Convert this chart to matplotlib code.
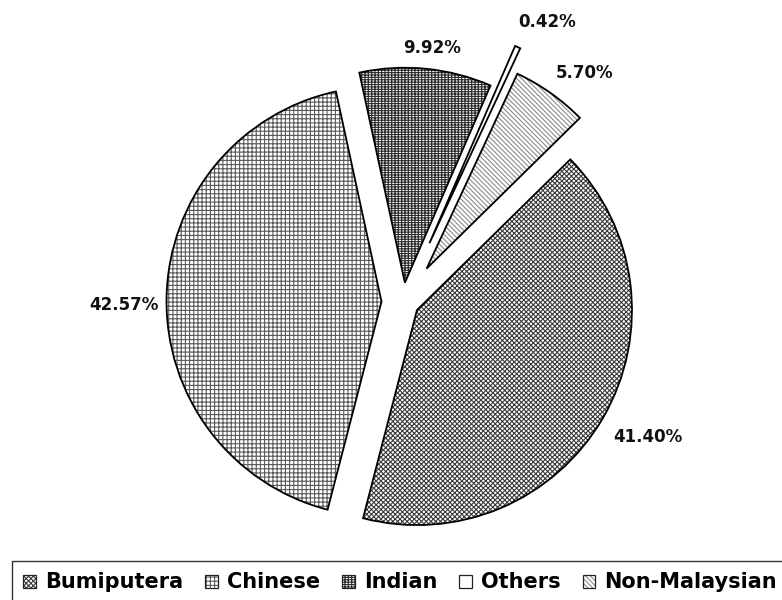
import matplotlib
matplotlib.use("Agg")
import matplotlib.pyplot as plt
from matplotlib.patches import Wedge, Patch
import numpy as np

categories = ["Bumiputera", "Chinese", "Indian", "Others", "Non-Malaysian"]
values = [41.40, 42.57, 9.92, 0.42, 5.70]
explode = [0.075, 0.10, 0.09, 0.30, 0.19]
hatches = ["xxxxxxx", "++++", "+++++--", "", "\\\\\\\\\\\\\\"]
hatch_colors = ["#3c3c3c", "#5a5a5a", "#2a2a2a", "#ffffff", "#8c8c8c"]
label_dist = [1.226, 1.20, 1.10, 1.165, 1.17]
label_angle_off = [1.2, 2.0, -0.9, -3.7, -3.6]

plt.rcParams["hatch.linewidth"] = 0.8
W, H = 782, 600
fig = plt.figure(figsize=(W / 100, H / 100), dpi=100)
R = 215.0
L = 1.6
cx, cy = 403.0, H - 302.0
side = 2 * L * R
ax = fig.add_axes([(cx - side / 2) / W, (cy - side / 2) / H, side / W, side / H])

wedges, _ = ax.pie(values, explode=explode, startangle=44.5, counterclock=False,
                   radius=1.0, colors=["white"] * 5,
                   wedgeprops=dict(linewidth=0))
ax.set_xlim(-L, L)
ax.set_ylim(-L, L)
ax.axis("off")
for w, h, hc in zip(wedges, hatches, hatch_colors):
    w.set_hatch(h)
    w.set_edgecolor(hc)
    w.set_linewidth(0)
    outline = Wedge(w.center, w.r, w.theta1, w.theta2, fill=False,
                    edgecolor="black", linewidth=1.3)
    ax.add_patch(outline)

for w, v, d, da in zip(wedges, values, label_dist, label_angle_off):
    mid = np.deg2rad((w.theta1 + w.theta2) / 2 + da)
    x = w.center[0] + d * w.r * np.cos(mid)
    y = w.center[1] + d * w.r * np.sin(mid)
    ax.text(x, y, f"{v:.2f}%", ha="center", va="center", fontsize=12,
            fontweight="bold", family="DejaVu Sans", color="#111111")

handles = [(Patch(facecolor="white", edgecolor=hc, hatch=h, linewidth=0),
            Patch(fill=False, edgecolor="#222222", linewidth=0.9))
           for h, hc in zip(hatches, hatch_colors)]
leg = fig.legend(handles, categories, loc="upper left",
                 bbox_to_anchor=(12 / W, 1 - 561 / H), ncol=5,
                 prop=dict(family="DejaVu Sans", weight="bold", size=15),
                 handlelength=0.6, handleheight=0.6, handletextpad=0.45,
                 columnspacing=1.05, borderpad=0.55, borderaxespad=0,
                 frameon=True, fancybox=False)
leg.get_frame().set_edgecolor("black")
leg.get_frame().set_linewidth(1.0)

fig.savefig("out.png", dpi=100)
